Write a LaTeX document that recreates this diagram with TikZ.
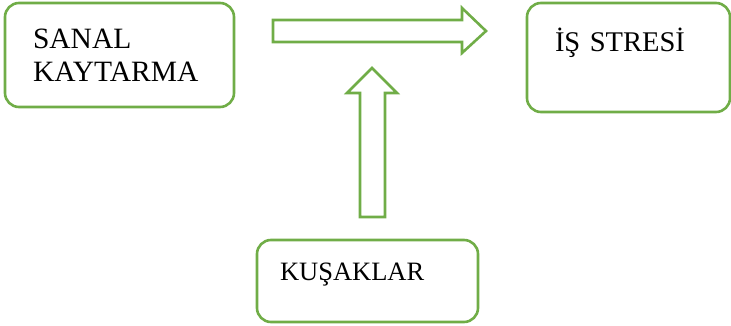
\documentclass[tikz,border=0pt]{standalone}
\usepackage{fontspec}
\setmainfont{Liberation Serif}
\definecolor{boxgreen}{RGB}{112,173,71}
\tikzset{
    greenbox/.style={draw=boxgreen, line width=2.6pt, rounded corners=14pt, align=left, inner ysep=0pt},
    blockarrow/.style={draw=boxgreen, line width=2.6pt, fill=white, line join=miter}
}
\begin{document}
\begin{tikzpicture} [x=1pt, y=-1pt]
    \useasboundingbox (0, 0) rectangle (731, 326);

    % Kutular
    \node [greenbox, minimum height=104pt, text width=173pt, inner xsep=28pt, font=\fontsize{29.5}{33}\selectfont] (sanal) at (119.5, 55) {SANAL\\KAYTARMA};
    \node [greenbox, text width=147pt, inner xsep=28pt, text height=49pt, text depth=60pt, font=\fontsize{28.5}{33}\selectfont] (stres) at (628.5, 57.5) {İŞ STRESİ};
    \node [greenbox, text width=175pt, inner xsep=23pt, text height=40pt, text depth=42pt, font=\fontsize{26.5}{31}\selectfont] (kusak) at (367.5, 281) {KUŞAKLAR};

    % Ok: sanal -> stres
    \draw [blockarrow] (273, 20) -- (462, 20) -- (462, 8) -- (486, 31) -- (462, 53) -- (462, 42) -- (273, 42) -- cycle;

    % Ok: kusak -> yukari
    \draw [blockarrow] (360, 217) -- (360, 93) -- (347, 93) -- (372, 68) -- (397, 93) -- (385, 93) -- (385, 217) -- cycle;
\end{tikzpicture}
\end{document}
